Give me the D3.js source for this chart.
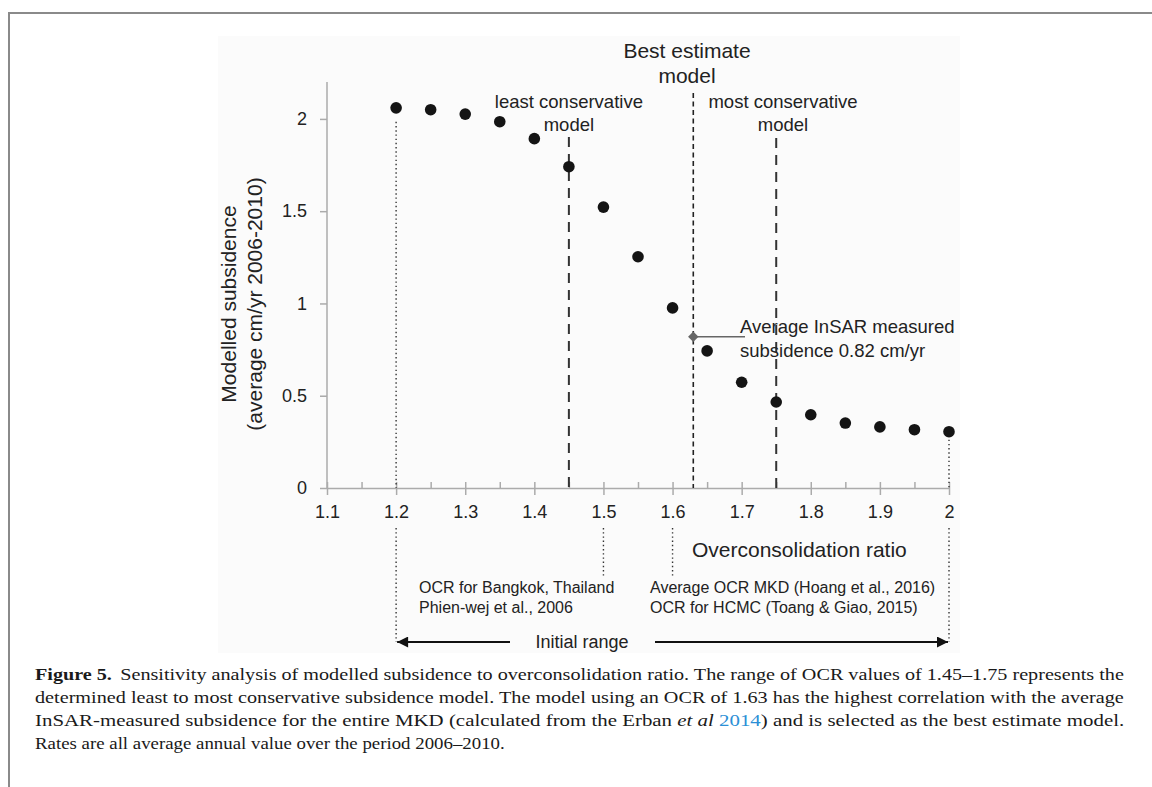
<!DOCTYPE html>
<html><head><meta charset="utf-8">
<script src="https://cdn.jsdelivr.net/npm/d3@7/dist/d3.min.js"></script>
<style>body{margin:0;background:#fff}svg{display:block}</style>
</head><body>
<svg id="c" width="1152" height="787"></svg>
<script>
// ---- data ----
const ocrValues = [1.2,1.25,1.3,1.35,1.4,1.45,1.5,1.55,1.6,1.65,1.7,1.75,1.8,1.85,1.9,1.95,2.0];
const subsidence = [2.06,2.05,2.026,1.985,1.893,1.741,1.522,1.253,0.976,0.743,0.573,0.466,0.397,0.352,0.331,0.316,0.305];
const xMajorTicks = [1.1,1.2,1.3,1.4,1.5,1.6,1.7,1.8,1.9,2.0];
const xMajorLabels = ["1.1","1.2","1.3","1.4","1.5","1.6","1.7","1.8","1.9","2"];
const xMinorTicks = [1.15,1.25,1.35,1.45,1.55,1.65,1.75,1.85,1.95];
const yTicks = [0,0.5,1,1.5,2];
const yTickLabels = ["0","0.5","1","1.5","2"];
const insarOCR = 1.63, insarValue = 0.82;
const modelOCR = [1.45,1.63,1.75];
const modelNames = [["least conservative","model"],["Best estimate","model"],["most conservative","model"]];
const initialRange = [1.2,2.0];
const referenceOCR = [1.5,1.6];
const referenceNotes = [["OCR for Bangkok, Thailand","Phien-wej et al., 2006"],["Average OCR MKD (Hoang et al., 2016)","OCR for HCMC (Toang & Giao, 2015)"]];
const yTitle = ["Modelled subsidence","(average cm/yr 2006-2010)"];
const xTitle = "Overconsolidation ratio";
const insarLabel = ["Average InSAR measured","subsidence 0.82 cm/yr"];
const captionLines = [
  [{t:"Figure 5.",b:1},{t:"Sensitivity analysis of modelled subsidence to overconsolidation ratio. The range of OCR values of 1.45\u20131.75 represents the",dx:7}],
  [{t:"determined least to most conservative subsidence model. The model using an OCR of 1.63 has the highest correlation with the average"}],
  [{t:"InSAR-measured subsidence for the entire MKD (calculated from the Erban "},{t:"et al",i:1},{t:" "},{t:"2014",c:"#2b8fd6"},{t:") and is selected as the best estimate model."}],
  [{t:"Rates are all average annual value over the period 2006\u20132010."}]
];
const captionWidths = [1090,1090,1090,470];

// ---- drawing ----
const svg = d3.select("#c");
const SANS = "'Liberation Sans', Arial, Helvetica, sans-serif";
const SERIF = "'Liberation Serif', 'Times New Roman', serif";

// frame + light figure panel
svg.append("rect").attr("x",218).attr("y",36).attr("width",742).attr("height",617).attr("fill","#fbfbfb");
svg.append("line").attr("x1",9).attr("x2",1152).attr("y1",13).attr("y2",13).attr("stroke","#8a8a8a").attr("stroke-width",2);
svg.append("line").attr("x1",9).attr("x2",9).attr("y1",12).attr("y2",787).attr("stroke","#8a8a8a").attr("stroke-width",2);

const x = d3.scaleLinear().domain([1.1,2.0]).range([327,949]);
const y = d3.scaleLinear().domain([0,2.2]).range([488,82]);
const txt = "#222";

// axes
const gx = svg.append("g").attr("transform",`translate(0,${y(0)})`)
  .call(d3.axisBottom(x).tickValues(xMajorTicks).tickFormat((d,i)=>xMajorLabels[i]).tickSizeInner(7).tickSizeOuter(0).tickPadding(10));
const gxUp = svg.append("g").attr("transform",`translate(0,${y(0)})`)
  .call(d3.axisTop(x).tickValues(xMajorTicks.concat(xMinorTicks)).tickFormat("").tickSizeInner(6).tickSizeOuter(0));
gxUp.select(".domain").remove();
const gy = svg.append("g").attr("transform",`translate(${x(1.1)},0)`)
  .call(d3.axisLeft(y).tickValues(yTicks).tickFormat((d,i)=>yTickLabels[i]).tickSizeInner(7).tickSizeOuter(0).tickPadding(13));
gy.select(".domain").attr("d",`M0,${y(2.2)}V${y(0)}`);
[gx,gxUp,gy].forEach(g=>{
  g.selectAll(".domain,.tick line").attr("stroke","#ababab").attr("stroke-width",1.5);
  g.selectAll("text").attr("fill",txt).style("font-family",SANS).style("font-size","18px");
});

// dotted lines (initial range)
const dotted = {stroke:"#333","stroke-width":1.4,"stroke-dasharray":"1.4,2.8"};
function vline(xv,y1,y2,style){
  const l = svg.append("line").attr("x1",x(xv)).attr("x2",x(xv)).attr("y1",y1).attr("y2",y2);
  Object.entries(style).forEach(([k,v])=>l.attr(k,v));
  return l;
}
vline(initialRange[0], y(subsidence[0])+14, y(0), dotted);
vline(initialRange[1], y(subsidence[subsidence.length-1])+8, y(0), dotted);
initialRange.forEach(v=>vline(v,528,642,dotted));
referenceOCR.forEach(v=>vline(v,528,577,dotted));

// model dashed lines
vline(modelOCR[0],137,y(0),{stroke:"#333","stroke-width":2,"stroke-dasharray":"10,7"});
vline(modelOCR[2],138,y(0),{stroke:"#333","stroke-width":2,"stroke-dasharray":"10,7"});
vline(modelOCR[1],93,y(0),{stroke:"#222","stroke-width":1.6,"stroke-dasharray":"5,3.5"});

// model labels
function multiText(lines,cx,baselines,size,anchor){
  lines.forEach((s,i)=>svg.append("text").attr("x",cx).attr("y",baselines[i]).attr("text-anchor",anchor||"middle")
    .attr("fill",txt).style("font-family",SANS).style("font-size",size+"px").text(s));
}
multiText(modelNames[0],x(modelOCR[0]),[108,131],18.5);
multiText(modelNames[1],687,[58,83],21);
multiText(modelNames[2],783,[108,131],18.5);

// points
svg.append("g").selectAll("circle").data(ocrValues).join("circle")
  .attr("cx",d=>x(d)).attr("cy",(d,i)=>y(subsidence[i])).attr("r",5.8).attr("fill","#141414");

// InSAR marker + label
svg.append("line").attr("x1",x(insarOCR)).attr("x2",745).attr("y1",y(insarValue)).attr("y2",y(insarValue)).attr("stroke","#666").attr("stroke-width",1.5);
svg.append("path").attr("d",d3.symbol(d3.symbolDiamond2,70)()).attr("transform",`translate(${x(insarOCR)},${y(insarValue)})`).attr("fill","#666");
multiText(insarLabel,740,[333,357],18.5,"start");

// y title
yTitle.forEach((s,i)=>svg.append("text").attr("transform",`translate(${[236,262][i]},304) rotate(-90)`)
  .attr("text-anchor","middle").attr("fill",txt).style("font-family",SANS).style("font-size","21px").text(s));

// x title
svg.append("text").attr("x",692).attr("y",557).attr("fill",txt).style("font-family",SANS).style("font-size","21px").text(xTitle);

// reference notes
multiText(referenceNotes[0],419,[593,613],16,"start");
multiText(referenceNotes[1],650,[593,613],16,"start");

// initial range arrows
const defs = svg.append("defs");
defs.append("marker").attr("id","ah").attr("viewBox","0 0 10 10").attr("refX",10).attr("refY",5)
  .attr("markerWidth",16).attr("markerHeight",11).attr("markerUnits","userSpaceOnUse").attr("orient","auto-start-reverse")
  .append("path").attr("d","M0,0L10,5L0,10Z").attr("fill","#111");
const arrowY = 642;
svg.append("line").attr("x1",x(initialRange[0])+1).attr("x2",510).attr("y1",arrowY).attr("y2",arrowY)
  .attr("stroke","#111").attr("stroke-width",2).attr("marker-start","url(#ah)");
svg.append("line").attr("x1",655).attr("x2",x(initialRange[1])-1).attr("y1",arrowY).attr("y2",arrowY)
  .attr("stroke","#111").attr("stroke-width",2).attr("marker-end","url(#ah)");
svg.append("text").attr("x",582).attr("y",arrowY+6).attr("text-anchor","middle").attr("fill",txt)
  .style("font-family",SANS).style("font-size","18px").text("Initial range");

// caption
const capBase = [680,703,726,749];
captionLines.forEach((parts,i)=>{
  const t = svg.append("text").attr("fill","#1a1a1a").style("font-family",SERIF).style("font-size","17px");
  parts.forEach(p=>{
    const s = t.append("tspan").text(p.t);
    if(p.b) s.attr("font-weight","bold");
    if(p.i) s.attr("font-style","italic");
    if(p.c) s.attr("fill",p.c);
    if(p.dx) s.attr("dx",p.dx);
  });
  const w = t.node().getBBox().width;
  t.attr("transform",`translate(35,${capBase[i]}) scale(${captionWidths[i]/w},1)`);
});
</script>
</body></html>
